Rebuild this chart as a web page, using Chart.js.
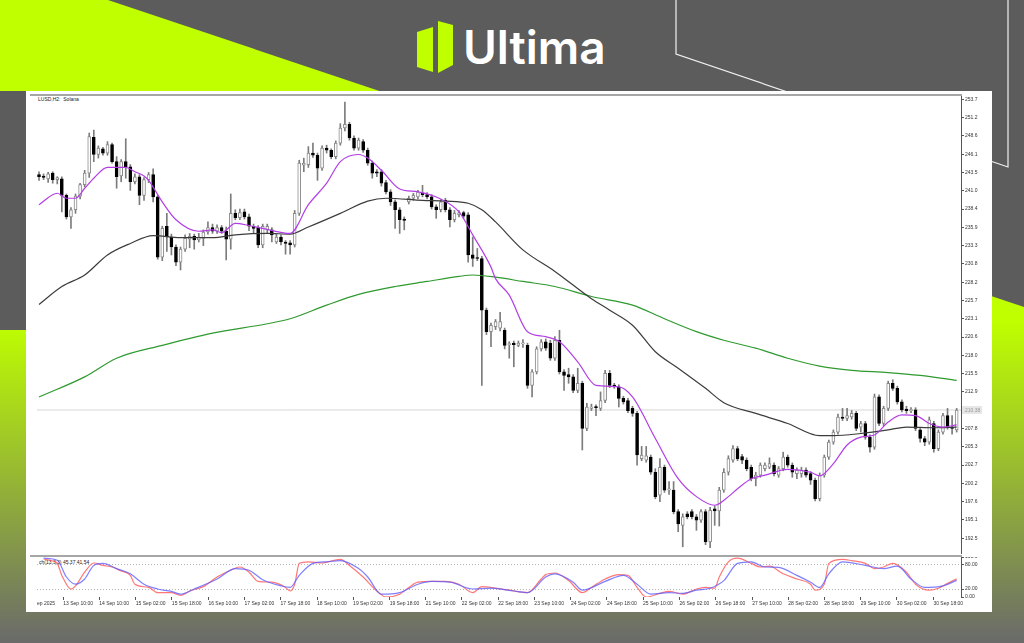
<!DOCTYPE html>
<html>
<head>
<meta charset="utf-8">
<script src="https://cdn.jsdelivr.net/npm/chart.js"></script>
<style>
html,body{margin:0;padding:0;background:#5c5c5c;}
#wrap{position:relative;width:1024px;height:643px;overflow:hidden;}
#bg{position:absolute;left:0;top:0;}
canvas{position:absolute;}
#priceCv{left:37px;top:96px;}
#stochCv{left:37px;top:557px;}
.lbl{position:absolute;font-family:'Liberation Sans',Arial,sans-serif;font-size:5px;color:#222;white-space:nowrap;line-height:6px;}
</style>
</head>
<body>
<div id="wrap">
<svg id="bg" width="1024" height="643">
  <defs>
    <linearGradient id="lime" x1="0" y1="0" x2="0" y2="643" gradientUnits="userSpaceOnUse">
      <stop offset="0.5" stop-color="#bfff00"/>
      <stop offset="1" stop-color="#6a6a6a"/>
    </linearGradient>
  </defs>
  <rect width="1024" height="643" fill="#5c5c5c"/>
  <polygon points="0,0 108,0 1024,307 1024,643 0,643" fill="url(#lime)"/>
  <rect x="0" y="91" width="27" height="239" fill="#5c5c5c"/>
  <polyline points="676,0 676,54 1008,167 1008,0" fill="none" stroke="#f0f0f0" stroke-width="1.2"/>
  <polygon points="417,32 433,27 433,72 417,67" fill="#bfff00"/>
  <polygon points="438,21 453,25 453,65 438,73" fill="#bfff00"/>
  <text x="463" y="64" font-family="Inter" font-weight="600" font-size="46" fill="#ffffff">Ultima</text>
  <rect x="26" y="91" width="966" height="521" fill="#ffffff"/>
  <rect x="30" y="94" width="932" height="2" fill="#a6a6a6"/>
  <rect x="30" y="555" width="932" height="2" fill="#a6a6a6"/>
</svg>
<div class="lbl" style="left:38px;top:96px;">LUSD,H2:&nbsp; Solana</div>
<div class="lbl" style="left:39px;top:559px;">ch(13,3,3) 45.37 41.54</div>
<canvas id="priceCv" width="957" height="458"></canvas>
<canvas id="stochCv" width="957" height="55"></canvas>
</div>
<script>
// SOLUSD H2 candles
const opens = [
 243.2,243.0,242.6,243.4,242.5,242.6,240.3,237.3,238.3,240.2,
 241.8,243.4,248.4,246.0,246.8,246.2,247.4,245.0,243.0,245.0,
 244.3,242.2,242.9,240.3,242.5,243.2,240.1,231.7,236.0,234.5,
 233.1,231.0,232.8,234.2,234.6,234.1,234.3,235.2,235.8,235.3,
 235.8,235.3,234.2,237.8,237.2,238.0,237.3,236.0,235.8,233.4,
 235.5,235.5,233.8,234.5,233.8,233.7,233.4,237.8,244.5,244.6,
 246.2,245.9,244.1,246.9,246.6,245.7,247.6,249.7,250.2,248.3,
 246.9,247.8,246.6,244.8,243.6,243.6,242.1,240.8,239.4,238.3,
 237.0,239.4,239.9,240.1,240.6,240.4,240.1,238.7,238.3,239.6,
 238.3,236.9,237.6,237.9,237.6,232.0,231.6,231.5,224.3,221.3,
 222.0,221.8,221.5,219.5,219.7,219.4,219.6,219.4,213.8,215.7,
 218.9,219.9,219.7,217.6,220.1,215.7,215.3,215.0,213.1,214.1,
 207.8,210.6,210.8,210.6,211.7,215.5,213.8,213.6,212.0,211.7,
 210.6,209.9,203.6,203.4,203.8,201.7,198.5,202.4,199.2,199.2,
 196.2,194.3,195.9,196.2,195.5,195.0,196.2,192.0,196.6,196.3,
 199.2,201.7,203.4,205.0,203.9,203.4,202.4,200.8,201.3,202.2,
 202.4,202.7,201.3,202.2,203.8,202.7,201.5,201.5,202.0,201.5,
 200.6,198.0,201.3,203.8,205.9,207.3,209.4,209.2,209.4,209.9,
 208.0,208.5,206.6,205.2,212.2,208.5,210.6,214.1,213.4,211.5,
 210.5,210.3,210.4,207.6,206.4,205.9,208.5,205.0,207.3,209.6,
 208.0,207.6
];
const highs = [
 243.6,243.3,243.5,243.6,242.9,242.9,240.5,238.6,240.5,242.0,
 243.8,249.0,249.4,247.2,247.0,247.8,247.6,245.7,245.3,248.2,
 244.6,243.3,243.2,242.8,243.5,244.0,240.3,236.0,237.8,234.9,
 233.4,233.1,234.8,235.0,234.9,235.0,235.5,236.6,236.3,236.2,
 236.1,235.9,240.5,238.3,238.4,238.4,237.7,236.3,236.1,236.3,
 236.3,235.8,234.9,234.8,234.0,234.0,238.2,245.2,245.5,247.1,
 247.6,246.2,247.2,247.3,246.8,247.9,250.3,253.3,250.5,248.6,
 248.3,248.1,246.9,245.1,243.9,243.9,242.4,241.1,239.7,238.6,
 237.3,240.2,240.6,241.0,241.7,240.7,240.4,239.0,239.7,239.9,
 238.6,238.2,238.2,238.1,237.9,234.5,232.9,231.8,224.6,222.5,
 223.0,224.0,221.8,219.9,220.0,220.0,220.2,219.7,216.0,219.2,
 220.2,220.3,220.1,220.6,221.5,216.0,216.2,215.3,216.2,214.4,
 211.3,211.2,211.1,212.9,215.9,215.9,214.1,213.9,212.3,212.0,
 210.9,210.2,205.3,205.3,204.1,202.2,203.6,202.7,200.4,200.4,
 196.5,195.9,196.2,196.5,195.8,196.5,196.5,196.8,197.0,199.6,
 202.2,204.0,205.4,205.3,204.2,203.7,202.7,201.7,203.0,203.0,
 203.7,203.0,202.5,204.5,204.1,203.0,202.3,202.4,202.3,201.8,
 200.9,201.6,204.1,206.2,207.6,209.8,210.6,210.6,210.3,210.2,
 208.8,208.8,206.9,212.6,212.5,210.9,214.4,214.6,213.7,211.8,
 210.9,210.7,210.7,207.9,206.7,209.4,208.8,207.6,209.9,210.6,
 209.6,210.6
];
const lows = [
 242.4,242.5,242.1,242.0,241.9,238.0,237.0,235.7,237.8,239.8,
 241.5,242.8,245.0,245.5,245.9,245.9,244.8,241.3,242.2,242.7,
 241.0,241.9,239.0,239.6,242.1,239.4,231.4,231.2,232.5,232.0,
 230.5,229.9,232.5,233.0,232.8,233.8,233.3,234.9,235.0,235.0,
 235.0,231.3,232.8,236.9,236.9,237.0,235.4,235.0,233.0,233.0,
 235.1,233.8,233.6,233.4,232.1,232.1,233.1,237.5,243.6,244.2,
 245.6,242.4,243.8,246.2,245.4,245.4,247.3,249.3,248.0,246.6,
 246.6,246.3,244.5,242.7,242.9,241.6,240.5,238.9,235.7,235.0,
 235.5,239.1,239.6,239.8,240.1,239.8,238.4,237.1,238.0,238.0,
 235.9,236.6,237.3,237.1,231.0,230.4,231.2,213.8,220.9,219.2,
 221.6,221.4,218.9,217.6,216.4,219.2,219.1,213.4,212.2,215.4,
 218.6,218.7,217.3,217.3,215.4,213.1,214.1,212.8,212.8,204.8,
 207.5,210.3,209.6,210.3,211.4,213.5,213.4,210.8,211.2,210.0,
 209.5,202.7,203.3,203.1,201.4,198.0,197.6,198.9,198.6,195.9,
 193.4,191.3,195.2,195.2,193.6,194.7,191.6,191.2,194.3,194.2,
 198.9,201.3,203.1,203.3,202.9,201.9,200.5,199.8,201.0,201.9,
 202.2,201.2,201.0,201.9,202.4,201.0,200.8,201.0,201.0,200.0,
 197.7,197.7,201.0,203.5,205.6,207.0,208.9,208.9,209.1,207.5,
 207.3,206.3,204.5,204.9,208.2,208.2,210.3,213.1,211.2,210.1,
 209.9,210.0,207.5,205.9,205.4,205.6,204.5,204.7,207.0,207.7,
 207.0,207.3
];
const closes = [
 242.9,242.8,243.3,242.5,242.8,240.3,237.3,238.3,240.2,241.8,
 243.4,248.5,246.0,246.9,246.2,247.4,245.0,242.9,245.0,244.3,
 242.2,242.9,240.3,242.5,243.2,240.1,231.7,235.7,234.5,233.1,
 231.0,232.8,234.3,234.6,234.1,234.5,235.2,235.8,235.3,235.8,
 235.3,234.2,237.8,237.2,237.9,237.3,236.0,235.7,233.4,236.0,
 236.0,234.8,234.5,233.8,233.6,233.4,237.8,244.8,244.8,246.2,
 245.9,244.1,246.9,246.6,245.7,247.6,249.7,250.2,248.3,246.9,
 248.0,246.6,244.8,243.4,243.4,242.0,240.8,239.4,238.3,236.9,
 236.8,239.9,240.3,240.8,240.4,240.1,238.7,238.3,239.4,238.3,
 236.9,237.8,237.9,237.4,232.0,231.5,231.5,224.3,221.3,222.2,
 222.7,222.7,219.4,219.6,219.5,219.7,219.6,213.8,215.7,218.9,
 219.9,219.0,217.6,220.1,215.7,215.2,215.0,213.1,214.1,207.8,
 210.8,210.8,210.7,211.7,215.5,213.8,213.7,212.0,211.5,210.3,
 209.9,204.1,204.1,204.0,201.7,198.3,202.4,199.2,199.4,196.2,
 194.5,195.5,195.5,195.5,195.0,196.2,192.0,196.4,196.3,199.2,
 201.7,203.6,205.0,203.6,203.4,202.2,200.8,201.3,202.7,202.7,
 202.9,201.5,202.2,203.8,202.7,201.7,202.0,202.0,201.3,200.6,
 198.0,201.3,203.8,205.9,207.3,209.4,209.2,209.6,209.9,207.8,
 208.5,206.6,205.2,212.2,208.5,210.6,214.1,213.4,211.5,210.4,
 210.3,210.4,207.8,206.4,205.9,209.0,205.0,207.3,209.6,208.0,
 207.8,210.38
];

// moving averages, sampled [bar, price]
const maFast = [
 [0,239.0],[4,240.6],[6,239.9],[8,239.9],[10,241.3],[12,242.7],[15,244.2],[19,244.2],[21,243.6],[23,243.0],
 [24,242.4],[27,239.4],[30,236.9],[35,235.3],[38,235.5],[40,235.1],[43,236.4],[46,236.1],[49,235.7],[55,235.0],
 [59,239.0],[63,242.0],[66,245.0],[70,246.0],[72,245.5],[75,243.8],[79,241.2],[83,240.8],[88,239.8],[92,238.0],
 [95,234.8],[99,230.3],[100,228.7],[103,226.4],[107,221.3],[111,220.6],[114,219.9],[118,217.1],[122,213.8],[127,213.6],
 [130,212.2],[135,206.4],[140,200.8],[144,198.3],[148,197.1],[151,198.3],[153,199.4],[156,200.8],[159,201.3],[164,202.1],
 [169,201.7],[171,201.2],[174,202.9],[177,205.5],[180,206.6],[183,206.9],[186,208.7],[189,209.7],[192,209.6],[195,208.5],
 [198,208.0],[201,208.3]
];
const maMid = [
 [0,225.1],[5,227.6],[10,229.2],[15,232.0],[20,233.6],[25,234.7],[31,234.4],[38,234.4],[43,234.8],[50,235.0],
 [55,234.9],[59,235.9],[66,237.8],[72,239.5],[76,239.9],[84,239.6],[89,239.5],[94,239.2],[97,238.3],[100,236.6],
 [106,232.7],[113,229.7],[121,225.9],[125,224.3],[130,222.2],[135,218.5],[140,216.2],[146,213.4],[150,211.4],[157,209.9],
 [164,208.5],[171,206.8],[174,206.8],[180,207.1],[186,207.6],[190,208.0],[196,207.9],[201,208.0]
];
const maSlow = [
 [0,212.2],[10,215.0],[17,217.6],[27,219.4],[38,221.1],[50,222.4],[55,223.1],[63,225.0],[70,226.5],[78,227.6],
 [85,228.3],[92,229.0],[95,229.2],[100,228.9],[106,228.3],[113,227.6],[121,226.2],[130,225.0],[137,223.1],[144,221.3],
 [150,220.1],[157,219.0],[164,217.6],[171,216.5],[178,215.9],[186,215.6],[193,215.2],[201,214.5]
];

// stochastic (13,3,3), sampled [bar, value]
const stochMain = [
 [1,95],[3,90],[4,84],[5,54],[7,20],[8,28],[10,62],[12,85],[14,79],[16,75],[18,65],[20,54],[21,32],[24,24],[26,11],
 [29,11],[31,4],[33,15],[36,26],[39,50],[42,67],[44,75],[46,62],[48,39],[51,37],[54,24],[55,15],[56,32],[57,84],
 [59,88],[62,85],[66,94],[68,79],[71,50],[74,15],[76,0],[79,7],[81,24],[83,37],[86,39],[89,39],[92,32],[95,11],
 [97,26],[100,22],[103,17],[107,11],[110,45],[111,56],[113,60],[116,41],[119,11],[121,24],[124,45],[127,56],[129,54],
 [131,24],[133,0],[136,9],[138,14],[141,7],[144,20],[146,24],[148,22],[149,50],[151,88],[153,97],[156,84],[158,75],
 [160,77],[163,58],[166,45],[169,32],[170,17],[172,32],[173,84],[176,94],[178,91],[181,84],[183,71],[185,75],[187,84],
 [190,62],[192,32],[195,17],[197,22],[199,34],[201,45.37]
];
const stochSignal = [
 [1,97],[4,92],[6,50],[8,32],[10,45],[12,79],[14,84],[17,71],[20,58],[23,32],[26,20],[29,14],[31,7],[34,20],[39,45],
 [43,71],[46,67],[49,43],[53,28],[55,24],[57,54],[60,84],[63,88],[66,91],[70,71],[72,50],[75,7],[79,11],[83,32],
 [86,39],[90,37],[95,20],[99,22],[104,15],[107,11],[111,50],[113,58],[117,37],[119,17],[124,39],[128,54],[131,32],
 [134,7],[138,11],[141,9],[144,17],[147,22],[150,41],[153,84],[156,88],[159,75],[162,74],[166,54],[169,37],[171,24],
 [173,58],[176,88],[181,79],[185,71],[188,77],[191,45],[194,24],[198,28],[201,41.54]
];

const priceTicks = [253.7,251.15,248.6,246.05,243.5,240.95,238.4,235.85,233.3,230.75,228.2,225.65,
 223.1,220.55,218.0,215.45,212.9,207.8,205.25,202.7,200.15,197.6,195.05,192.5];
const priceTickLabels = ['253.7','251.2','248.6','246.1','243.5','241.0','238.4','235.9','233.3','230.8','228.2','225.7',
 '223.1','220.6','218.0','215.5','212.9','207.8','205.3','202.7','200.2','197.6','195.1','192.5'];
const stochTicks = [0,20,80,100];
const stochTickLabels = ['0.00','20.00','80.00','100.0'];
const timeTickBars = [-2.7,5.3,13.2,21.2,29.1,37.1,45.0,52.9,60.9,68.8,76.8,84.7,92.6,100.6,108.5,116.5,124.4,
 132.3,140.3,148.2,156.2,164.1,172.0,180.0,187.9,195.9];
const timeTickLabels = ['12 Sep 2025','13 Sep 10:00','14 Sep 10:00','15 Sep 02:00','15 Sep 18:00','16 Sep 10:00',
 '17 Sep 02:00','17 Sep 18:00','18 Sep 10:00','19 Sep 02:00','19 Sep 18:00','21 Sep 10:00','22 Sep 02:00',
 '22 Sep 18:00','23 Sep 10:00','24 Sep 02:00','24 Sep 18:00','25 Sep 10:00','26 Sep 02:00','26 Sep 18:00',
 '27 Sep 10:00','28 Sep 02:00','28 Sep 18:00','29 Sep 10:00','30 Sep 02:00','30 Sep 18:00'];

const xMin = -0.44, xMax = 201.95;
const lastPrice = closes[closes.length - 1];
const idx = opens.map((_, i) => i);
const isBull = i => closes[i] >= opens[i];
const pts = arr => arr.map(p => ({x: p[0], y: p[1]}));
const tickFont = {family: 'Liberation Sans', size: 5};

// grey box with the current price on the right axis
const lastPriceTag = {
  id: 'lastPriceTag',
  afterDraw(chart) {
    const ctx = chart.ctx;
    const y = chart.scales.y.getPixelForValue(lastPrice);
    const x = chart.chartArea.right + 1;
    ctx.save();
    ctx.fillStyle = '#e6e6e6';
    ctx.fillRect(x, y - 4, 20, 8);
    ctx.fillStyle = '#9a9a9a';
    ctx.font = '5px "Liberation Sans"';
    ctx.textBaseline = 'middle';
    ctx.fillText(lastPrice.toFixed(2), x + 3, y + 0.5);
    ctx.restore();
  }
};

new Chart(document.getElementById('priceCv'), {
  type: 'bar',
  data: {
    datasets: [
      {type: 'line', data: pts(maFast), borderColor: '#b23ee6', borderWidth: 1.2, pointRadius: 0, cubicInterpolationMode: 'monotone', order: 0},
      {type: 'line', data: pts(maMid), borderColor: '#3c3c3c', borderWidth: 1.2, pointRadius: 0, cubicInterpolationMode: 'monotone', order: 0},
      {type: 'line', data: pts(maSlow), borderColor: '#2f9a2f', borderWidth: 1.2, pointRadius: 0, cubicInterpolationMode: 'monotone', order: 0},
      {type: 'line', data: [{x: xMin, y: lastPrice}, {x: xMax, y: lastPrice}], borderColor: '#d6d6d6', borderWidth: 1, pointRadius: 0, order: 3},
      {
        data: idx.map(i => ({x: i, y: [opens[i], closes[i]]})),
        backgroundColor: idx.map(i => isBull(i) ? '#ffffff' : '#000000'),
        borderColor: idx.map(i => isBull(i) ? '#8a8a8a' : '#000000'),
        borderWidth: 1, borderSkipped: false, barThickness: 3, minBarLength: 1, grouped: false, order: 1
      },
      {
        data: idx.map(i => ({x: i, y: [lows[i], highs[i]]})),
        backgroundColor: '#7c7c7c', barThickness: 1, grouped: false, order: 2
      }
    ]
  },
  options: {
    responsive: false, animation: false, devicePixelRatio: 1,
    layout: {padding: 0},
    plugins: {legend: {display: false}, tooltip: {enabled: false}},
    scales: {
      x: {type: 'linear', min: xMin, max: xMax, offset: false, display: false, grid: {offset: false}},
      y: {
        type: 'linear', position: 'right', min: 190.3, max: 254.16, beginAtZero: false,
        afterBuildTicks: s => { s.ticks = priceTicks.map(v => ({value: v})); },
        afterFit: s => { s.width = 33; s.paddingTop = 0; s.paddingBottom = 0; },
        ticks: {callback: (v, i) => priceTickLabels[i], font: tickFont, color: '#333', padding: 1, autoSkip: false},
        grid: {drawOnChartArea: false, tickLength: 3, tickColor: '#555'},
        border: {display: true, color: '#555', width: 1}
      }
    }
  },
  plugins: [lastPriceTag]
});

new Chart(document.getElementById('stochCv'), {
  type: 'line',
  data: {
    datasets: [
      {data: pts(stochSignal), borderColor: 'rgba(95,95,255,0.8)', borderWidth: 1.2, pointRadius: 0, cubicInterpolationMode: 'monotone'},
      {data: pts(stochMain), borderColor: 'rgba(255,85,85,0.8)', borderWidth: 1.2, pointRadius: 0, cubicInterpolationMode: 'monotone'}
    ]
  },
  options: {
    responsive: false, animation: false, devicePixelRatio: 1,
    layout: {padding: 0},
    plugins: {legend: {display: false}, tooltip: {enabled: false}},
    scales: {
      x: {
        type: 'linear', min: xMin, max: xMax, offset: false,
        afterBuildTicks: s => { s.ticks = timeTickBars.map(v => ({value: v})); },
        afterFit: s => { s.height = 15; s.paddingLeft = 0; s.paddingRight = 0; },
        ticks: {callback: (v, i) => timeTickLabels[i], align: 'start', maxRotation: 0, autoSkip: false, font: tickFont, color: '#333', padding: 1},
        grid: {drawOnChartArea: false, tickLength: 3, tickColor: '#555'},
        border: {display: false}
      },
      y: {
        type: 'linear', position: 'right', min: 0, max: 100,
        afterBuildTicks: s => { s.ticks = stochTicks.map(v => ({value: v})); },
        afterFit: s => { s.width = 33; s.paddingTop = 0; s.paddingBottom = 0; },
        ticks: {callback: (v, i) => stochTickLabels[i], font: tickFont, color: '#333', padding: 1, autoSkip: false},
        grid: {
          color: c => (c.tick && (c.tick.value === 20 || c.tick.value === 80)) ? '#b4b4b4' : 'rgba(0,0,0,0)',
          tickLength: 3, tickColor: '#555'
        },
        border: {display: true, color: '#555', width: 1, dash: [1, 2]}
      }
    }
  }
});
</script>
</body>
</html>
